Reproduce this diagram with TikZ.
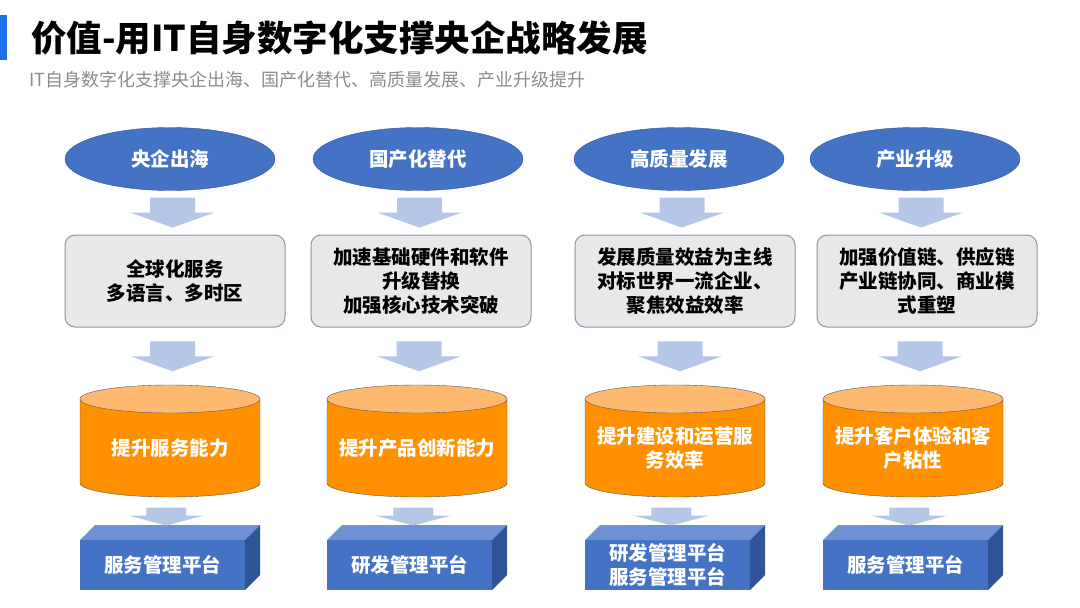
\documentclass[tikz,border=0pt]{standalone}
\usepackage{fontspec}
\setmainfont{Noto Sans CJK SC}
\usetikzlibrary{positioning,shapes.geometric,calc}
\definecolor{valBlue}{HTML}{4472C4}
\definecolor{valBlueDark}{HTML}{2F5597}
\definecolor{valBlueTop}{HTML}{6F91D4}
\definecolor{valArrow}{HTML}{B4C7E7}
\definecolor{valGray}{HTML}{E8E8E8}
\definecolor{valEdge}{HTML}{8497B0}
\definecolor{valOrange}{HTML}{FF9100}
\definecolor{valOrangeTop}{HTML}{FFB870}
\definecolor{valBar}{HTML}{1F6FEA}
\definecolor{valSub}{HTML}{8C8C8C}

\begin{document}
\begin{tikzpicture}[x=1pt,y=-1pt,font=\fontsize{19.5}{24}\selectfont\bfseries]
  \tikzset{
    goal/.style={ellipse,draw=valBlueDark,fill=valBlue,text=white,minimum width=210pt,minimum height=63pt,inner sep=0pt},
    measure/.style={draw=valEdge,line width=1pt,fill=valGray,rounded corners=10pt,minimum width=220pt,minimum height=92pt,align=center,inner sep=2pt},
    drum/.pic={
      \filldraw[fill=valOrange,draw=black!65] (-90,-42) -- (-90,42) arc[start angle=180,end angle=0,x radius=90,y radius=14] -- (90,-42) -- cycle;
      \filldraw[fill=valOrangeTop,draw=black!65] (0,-42) ellipse[x radius=90,y radius=14];
      \coordinate (-c) at (0,0);
      \coordinate (-n) at (0,-56);
      \coordinate (-s) at (0,56);
    },
    abilitytext/.style={text=white,align=center,inner sep=0pt},
    platform/.style={fill=valBlue,text=white,minimum width=165pt,minimum height=50pt,align=center,inner sep=0pt,outer sep=0pt},
    flow/.pic={\fill[valArrow] (-22.5,-15) -- (22.5,-15) -- (22.5,0) -- (42,0) -- (0,15) -- (-42,0) -- (-22.5,0) -- cycle;},
    flowsmall/.pic={\fill[valArrow] (-20,-9) -- (20,-9) -- (20,-1) -- (38,-1) -- (0,9) -- (-38,-1) -- (-20,-1) -- cycle;}
  }
  \useasboundingbox (0,0) rectangle (1080,608);

  % heading
  \fill[valBar] (0,15) rectangle (7,60);
  \node[anchor=west,inner sep=0pt,font=\fontsize{35.5}{38}\selectfont\bfseries] (title) at (31,38) {价值-用IT自身数字化支撑央企战略发展};
  \node[anchor=west,inner sep=0pt,text=valSub,font=\fontsize{18}{20}\selectfont] (sub) at (29,80) {IT自身数字化支撑央企出海、国产化替代、高质量发展、产业升级提升};

  % goals
  \node[goal] (g1) at (170,159) {央企出海};
  \node[goal] (g2) at (418,159) {国产化替代};
  \node[goal] (g3) at (679,159) {高质量发展};
  \node[goal] (g4) at (915,159) {产业升级};

  % measures
  \node[measure] (m1) at (175,281) {全球化服务\\多语言、多时区};
  \node[measure] (m2) at (421,281) {加速基础硬件和软件\\升级替换\\加强核心技术突破};
  \node[measure] (m3) at (685,281) {发展质量效益为主线\\对标世界一流企业、\\聚焦效益效率};
  \node[measure] (m4) at (927,281) {加强价值链、供应链\\产业链协同、商业模\\式重塑};

  % abilities
  \pic (a1) at (170,441) {drum};
  \pic (a2) at (417,441) {drum};
  \pic (a3) at (675,441) {drum};
  \pic (a4) at (913,441) {drum};
  \node[abilitytext] (t1) at ($(a1-c)+(0,7)$) {提升服务能力};
  \node[abilitytext] (t2) at ($(a2-c)+(0,7)$) {提升产品创新能力};
  \node[abilitytext] (t3) at ($(a3-c)+(0,7)$) {提升建设和运营服\\务效率};
  \node[abilitytext] (t4) at ($(a4-c)+(0,7)$) {提升客户体验和客\\户粘性};

  % platforms
  \node[platform] (p1) at (162.5,565) {服务管理平台};
  \node[platform] (p2) at (409.5,565) {研发管理平台};
  \node[platform] (p3) at (667.5,565) {研发管理平台\\服务管理平台};
  \node[platform] (p4) at (905.5,565) {服务管理平台};
  \fill[valBlueTop] (p1.north west) -- ++(15,-15) -- ++(165,0) -- (p1.north east) -- cycle;
  \fill[valBlueDark] (p1.north east) -- ++(15,-15) -- ++(0,50) -- (p1.south east) -- cycle;
  \fill[valBlueTop] (p2.north west) -- ++(15,-15) -- ++(165,0) -- (p2.north east) -- cycle;
  \fill[valBlueDark] (p2.north east) -- ++(15,-15) -- ++(0,50) -- (p2.south east) -- cycle;
  \fill[valBlueTop] (p3.north west) -- ++(15,-15) -- ++(165,0) -- (p3.north east) -- cycle;
  \fill[valBlueDark] (p3.north east) -- ++(15,-15) -- ++(0,50) -- (p3.south east) -- cycle;
  \fill[valBlueTop] (p4.north west) -- ++(15,-15) -- ++(165,0) -- (p4.north east) -- cycle;
  \fill[valBlueDark] (p4.north east) -- ++(15,-15) -- ++(0,50) -- (p4.south east) -- cycle;

  % arrows
  \pic at ($(g1.south)!0.5!(m1.north)$) {flow};
  \pic at ($(g2.south)!0.5!(m2.north)$) {flow};
  \pic at ($(g3.south)!0.5!(m3.north)$) {flow};
  \pic at ($(g4.south)!0.5!(m4.north)$) {flow};
  \pic at ($(m1.south)!0.5!(a1-n)$) {flow};
  \pic at ($(m2.south)!0.5!(a2-n)$) {flow};
  \pic at ($(m3.south)!0.5!(a3-n)$) {flow};
  \pic at ($(m4.south)!0.5!(a4-n)$) {flow};
  \pic at ($(a1-s)!0.5!(p1.north)+(0,-2)$) {flowsmall};
  \pic at ($(a2-s)!0.5!(p2.north)+(0,-2)$) {flowsmall};
  \pic at ($(a3-s)!0.5!(p3.north)+(0,-2)$) {flowsmall};
  \pic at ($(a4-s)!0.5!(p4.north)+(0,-2)$) {flowsmall};
\end{tikzpicture}
\end{document}
